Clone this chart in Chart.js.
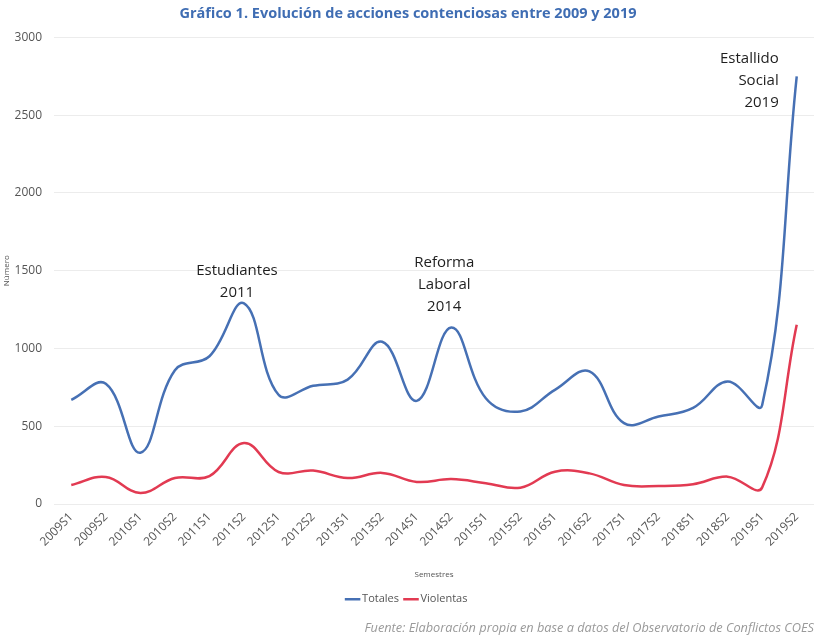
<!DOCTYPE html>
<html>
<head>
<meta charset="utf-8">
<script src="https://cdn.jsdelivr.net/npm/chart.js@4.4.1/dist/chart.umd.min.js"></script>
<style>
  html, body { margin: 0; padding: 0; background: #fff; }
  #wrap { width: 820px; height: 642px; position: relative; }
</style>
</head>
<body>
<div id="wrap"><canvas id="chart" width="820" height="642"></canvas></div>
<script>
// semestres 2009-2019
const semestres = ['2009S1','2009S2','2010S1','2010S2','2011S1','2011S2','2012S1','2012S2',
  '2013S1','2013S2','2014S1','2014S2','2015S1','2015S2','2016S1','2016S2',
  '2017S1','2017S2','2018S1','2018S2','2019S1','2019S2'];

const totales = [670, 773, 330, 860, 950, 1290, 702, 760, 800, 1043, 663, 1135,
  680, 595, 734, 852, 520, 562, 618, 788, 637, 2750];

const violentas = [122, 174, 71, 167, 180, 392, 206, 215, 167, 200, 142, 160,
  134, 105, 208, 197, 122, 116, 127, 176, 107, 1153];

const yTicks = [0, 500, 1000, 1500, 2000, 2500, 3000];

// text over the peaks: [semester index, lines, alignment, gap above the peak]
const hitos = [
  [5, ['Estudiantes', '2011'], 'center', 6],
  [11, ['Reforma', 'Laboral', '2014'], 'center', 16],
  [21, ['Estallido', 'Social', '2019'], 'right', 0]
];

const AZUL = '#4670b4';
const ROJO = '#e23a52';

const hitosPlugin = {
  id: 'hitos',
  afterDatasetsDraw(chart) {
    const ctx = chart.ctx;
    const x = chart.scales.x, y = chart.scales.y;
    ctx.save();
    ctx.font = '15px "Open Sans", sans-serif';
    ctx.fillStyle = '#1e1e1e';
    ctx.textBaseline = 'alphabetic';
    hitos.forEach(([i, lineas, align, gap]) => {
      let px = x.getPixelForValue(i);
      let base = y.getPixelForValue(totales[i]) - gap - (lineas.length - 1) * 22;
      if (align === 'right') {
        // the last peak reaches the top, so its text sits beside it
        px -= 18;
        base = y.getPixelForValue(yTicks[yTicks.length - 1]) + 26;
      } else {
        px -= 7;
      }
      ctx.textAlign = align;
      lineas.forEach((t, k) => ctx.fillText(t, px, base + k * 22));
    });
    ctx.restore();
  }
};

new Chart(document.getElementById('chart'), {
  type: 'line',
  data: {
    labels: semestres,
    datasets: [
      { label: 'Totales', data: totales, borderColor: AZUL, backgroundColor: AZUL,
        borderWidth: 2.5, tension: 0.4, pointRadius: 0 },
      { label: 'Violentas', data: violentas, borderColor: ROJO, backgroundColor: ROJO,
        borderWidth: 2.5, tension: 0.4, pointRadius: 0 }
    ]
  },
  options: {
    responsive: false,
    animation: false,
    layout: { padding: { left: 2, right: 6, top: 0, bottom: 4 } },
    plugins: {
      title: {
        display: true,
        text: 'Gráfico 1. Evolución de acciones contenciosas entre 2009 y 2019',
        color: '#3f6db3',
        font: { family: '"Open Sans", sans-serif', size: 14.5, weight: 'bold' },
        padding: { top: 5, bottom: 15 }
      },
      subtitle: {
        display: true,
        position: 'bottom',
        align: 'end',
        text: 'Fuente: Elaboración propia en base a datos del Observatorio de Conflictos COES',
        color: '#9a9a9a',
        font: { family: '"Open Sans", sans-serif', size: 12.75, style: 'italic' },
        padding: { top: 6, bottom: 2 }
      },
      legend: {
        position: 'bottom',
        labels: {
          usePointStyle: true,
          pointStyle: 'line',
          boxWidth: 8,
          padding: 8,
          color: '#555',
          font: { family: '"Open Sans", sans-serif', size: 11 }
        }
      },
      tooltip: { enabled: false }
    },
    scales: {
      x: {
        offset: true,
        // rotated labels may run under the y axis instead of pushing the plot right
        afterFit(scale) { scale.paddingLeft = 0; },
        grid: { display: false, drawTicks: false },
        border: { display: false },
        ticks: {
          minRotation: 45, maxRotation: 45, autoSkip: false, padding: 6,
          color: '#555',
          font: { family: '"Open Sans", sans-serif', size: 12 }
        },
        title: {
          display: true, text: 'Semestres', color: '#555',
          font: { family: '"Open Sans", sans-serif', size: 8 },
          padding: { top: 15, bottom: 6 }
        }
      },
      y: {
        min: 0, max: 3000,
        afterBuildTicks(axis) { axis.ticks = yTicks.map(v => ({ value: v })); },
        afterFit(scale) { scale.width = 52; },
        grid: { color: '#ececec', drawTicks: false },
        border: { display: false },
        ticks: {
          padding: 12, color: '#555',
          font: { family: '"Open Sans", sans-serif', size: 12 },
          callback: v => String(v)
        },
        title: {
          display: true, text: 'Número', color: '#555',
          font: { family: '"Open Sans", sans-serif', size: 8 },
          padding: { top: 0, bottom: 2 }
        }
      }
    }
  },
  plugins: [hitosPlugin]
});
</script>
</body>
</html>
